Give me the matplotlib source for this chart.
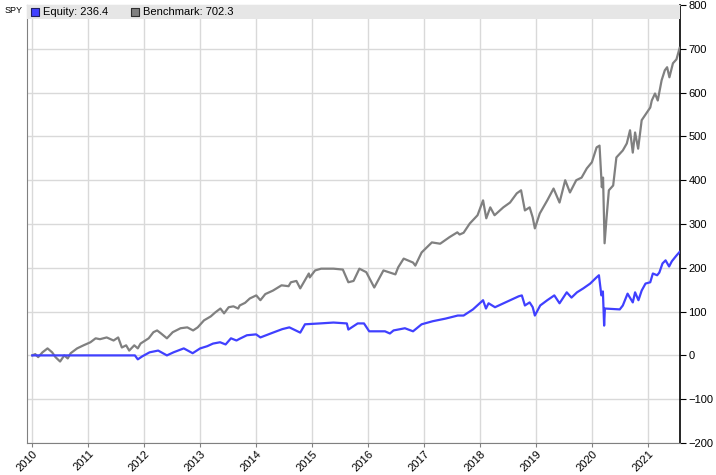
import matplotlib
matplotlib.use('Agg')
import matplotlib.pyplot as plt
import matplotlib.dates as mdates
from matplotlib.patches import Rectangle
import pandas as pd

plt.rcParams['font.family'] = ['Liberation Sans', 'DejaVu Sans']

# Benchmark (SPY) curve
bench_dates = [
    '2010-01-01', '2010-01-20', '2010-02-08', '2010-03-08', '2010-04-10', '2010-05-10',
    '2010-06-01', '2010-07-01', '2010-07-28', '2010-08-20', '2010-09-08', '2010-10-20',
    '2010-12-01', '2011-01-15', '2011-02-18', '2011-03-18', '2011-05-01', '2011-06-15',
    '2011-07-15', '2011-08-08', '2011-09-05', '2011-09-25', '2011-10-28', '2011-11-20',
    '2011-12-08', '2012-01-30', '2012-03-01', '2012-03-25', '2012-04-20', '2012-05-28',
    '2012-07-05', '2012-08-25', '2012-10-08', '2012-11-15', '2012-12-15', '2013-01-25',
    '2013-03-10', '2013-04-08', '2013-05-12', '2013-06-05', '2013-07-05', '2013-08-05',
    '2013-09-05', '2013-09-15', '2013-10-20', '2013-11-20', '2014-01-01', '2014-01-28',
    '2014-03-01', '2014-04-20', '2014-06-15', '2014-07-31', '2014-08-15', '2014-09-20',
    '2014-10-15', '2014-12-10', '2014-12-16', '2015-01-20', '2015-02-28', '2015-05-20',
    '2015-07-20', '2015-08-25', '2015-09-28', '2015-11-05', '2015-12-20', '2016-02-10',
    '2016-04-10', '2016-06-27', '2016-07-15', '2016-08-20', '2016-10-20', '2016-11-04',
    '2016-12-15', '2017-02-20', '2017-04-15', '2017-06-15', '2017-08-05', '2017-08-20',
    '2017-09-15', '2017-10-25', '2017-12-15', '2018-01-20', '2018-02-10', '2018-03-08',
    '2018-04-05', '2018-06-01', '2018-07-15', '2018-08-28', '2018-09-25', '2018-10-20',
    '2018-11-20', '2018-12-10', '2018-12-24', '2019-01-25', '2019-03-15', '2019-04-25',
    '2019-06-03', '2019-07-10', '2019-08-10', '2019-09-20', '2019-10-25', '2019-11-28',
    '2019-12-31', '2020-01-31', '2020-02-19', '2020-03-05', '2020-03-13', '2020-03-23',
    '2020-04-05', '2020-04-20', '2020-05-18', '2020-06-08', '2020-07-20', '2020-08-15',
    '2020-09-05', '2020-09-23', '2020-10-08', '2020-10-28', '2020-11-20', '2020-12-25',
    '2021-01-15', '2021-01-25', '2021-02-15', '2021-03-05', '2021-03-30', '2021-04-20',
    '2021-05-05', '2021-05-20', '2021-06-12', '2021-07-05', '2021-07-26',
]
bench_values = [
    0, 3, -4, 7, 16, 7,
    -4, -14, 0, -7, 5, 16,
    23, 30, 39, 37, 41, 34,
    41, 18, 23, 11, 23, 16,
    27, 39, 53, 57, 50, 39,
    53, 62, 64, 57, 64, 80,
    89, 98, 107, 96, 110, 112,
    107, 114, 120, 130, 137, 126,
    140, 148, 160, 158, 167, 170,
    153, 187, 178, 194, 198, 198,
    196, 167, 170, 198, 190, 155,
    194, 185, 201, 221, 212, 205,
    235, 258, 255, 270, 281, 276,
    280, 301, 320, 354, 313, 338,
    320, 338, 349, 370, 377, 331,
    338, 315, 290, 324, 354, 381,
    349, 400, 372, 400, 406, 427,
    441, 475, 479, 384, 406, 256,
    315, 377, 388, 452, 468, 484,
    514, 463, 509, 472, 537, 555,
    566, 582, 598, 582, 628, 651,
    658, 635, 667, 676, 702.3,
]

# Strategy equity curve
equity_dates = [
    '2010-01-01', '2011-11-01', '2011-11-20', '2011-12-20', '2012-02-05', '2012-04-01',
    '2012-05-28', '2012-07-10', '2012-09-15', '2012-11-12', '2012-12-31', '2013-02-15',
    '2013-03-25', '2013-05-10', '2013-06-15', '2013-07-20', '2013-08-25', '2013-09-15',
    '2013-11-01', '2013-12-31', '2014-01-28', '2014-04-20', '2014-06-20', '2014-08-05',
    '2014-10-15', '2014-11-15', '2015-02-20', '2015-05-20', '2015-08-15', '2015-08-25',
    '2015-10-25', '2015-12-05', '2016-01-08', '2016-04-20', '2016-05-22', '2016-06-15',
    '2016-08-28', '2016-10-20', '2016-12-15', '2017-02-25', '2017-05-20', '2017-08-08',
    '2017-09-15', '2017-11-15', '2018-01-20', '2018-02-08', '2018-02-25', '2018-04-08',
    '2018-06-15', '2018-09-10', '2018-09-30', '2018-10-20', '2018-11-20', '2018-12-10',
    '2018-12-24', '2019-01-28', '2019-03-15', '2019-04-30', '2019-06-03', '2019-07-20',
    '2019-08-20', '2019-09-25', '2019-11-05', '2019-12-20', '2020-01-30', '2020-02-15',
    '2020-03-02', '2020-03-12', '2020-03-20', '2020-03-25', '2020-06-30', '2020-07-20',
    '2020-08-20', '2020-09-23', '2020-10-08', '2020-10-30', '2020-11-20', '2020-12-15',
    '2021-01-15', '2021-02-01', '2021-03-01', '2021-03-15', '2021-04-05', '2021-04-25',
    '2021-05-18', '2021-06-05', '2021-07-05', '2021-07-26',
]
equity_values = [
    0, 0, -9, -2, 7, 11,
    0, 7, 16, 5, 16, 21,
    27, 30, 25, 39, 34, 38,
    46, 48, 41, 52, 60, 64,
    52, 71, 73, 75, 73, 59,
    73, 73, 55, 55, 50, 57,
    62, 55, 71, 78, 84, 91,
    91, 105, 126, 107, 119, 110,
    121, 135, 137, 114, 121, 110,
    91, 114, 126, 137, 119, 144,
    132, 144, 153, 164, 178, 183,
    137, 146, 68, 107, 105, 114,
    141, 121, 144, 126, 148, 164,
    167, 187, 183, 189, 210, 217,
    203, 215, 228, 236.4,
]

year_ticks = [str(y) for y in range(2010, 2022)]

blue = '#4040ff'
gray = '#808080'

fig = plt.figure(figsize=(7.16, 4.75), dpi=100)
ax = fig.add_axes([0.0377, 0.0674, 0.912, 0.922])

ax.plot(pd.to_datetime(bench_dates), bench_values, color=gray, lw=1.6, zorder=3)
ax.plot(pd.to_datetime(equity_dates), equity_values, color=blue, lw=1.6, zorder=4)

ax.set_xlim(pd.Timestamp('2009-11-27'), pd.Timestamp('2021-07-28'))
ax.set_ylim(-200, 800)
ax.set_yticks(range(-200, 801, 100))
ax.set_xticks(pd.to_datetime([y + '-01-01' for y in year_ticks]))
ax.xaxis.set_major_formatter(mdates.DateFormatter('%Y'))

ax.yaxis.tick_right()
ax.tick_params(axis='y', labelsize=8, length=4, color='black', pad=2)
ax.tick_params(axis='x', labelsize=8, length=3, color=gray, pad=1)
for lab in ax.get_xticklabels():
    lab.set_rotation(45)
    lab.set_ha('right')
    lab.set_rotation_mode('anchor')

ax.grid(True, color='#d9d9d9', lw=1)
ax.set_axisbelow(True)
for s in ['left', 'bottom', 'top']:
    ax.spines[s].set_color(gray)
ax.spines['right'].set_color('black')
ax.spines['right'].set_linewidth(1.2)

# legend band along the top
band = Rectangle((0, 1 - 14 / 438), 1, 14 / 438, transform=ax.transAxes,
                 facecolor='#e6e6e6', edgecolor='none', zorder=5)
ax.add_patch(band)
ax.scatter([0.013], [0.984], transform=ax.transAxes, marker='s', s=30,
           color=blue, edgecolors='#202060', linewidths=0.8, zorder=6)
ax.text(0.024, 0.984, f'Equity: {equity_values[-1]}', transform=ax.transAxes,
        fontsize=8, va='center', ha='left', zorder=6)
ax.scatter([0.166], [0.984], transform=ax.transAxes, marker='s', s=30,
           color=gray, edgecolors='#303030', linewidths=0.8, zorder=6)
ax.text(0.177, 0.984, f'Benchmark: {bench_values[-1]}', transform=ax.transAxes,
        fontsize=8, va='center', ha='left', zorder=6)

fig.text(0.007, 0.988, 'SPY', fontsize=6.5, va='top', ha='left')

fig.savefig('out.png', dpi=100, facecolor='white')
